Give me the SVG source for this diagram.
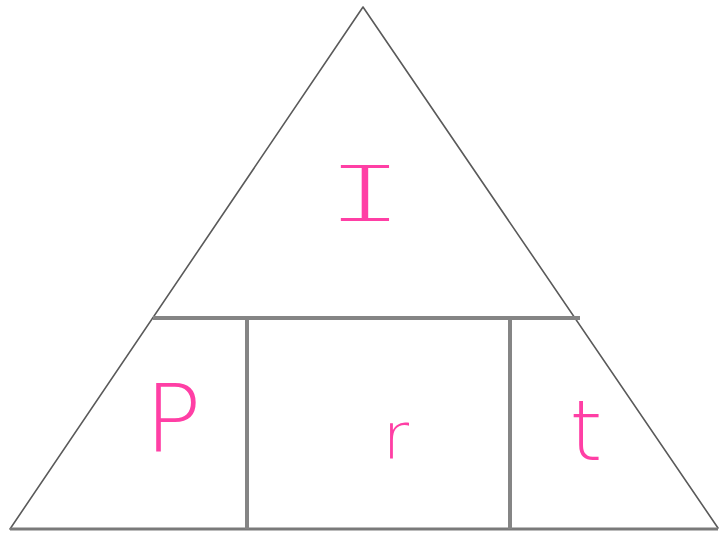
<svg xmlns="http://www.w3.org/2000/svg" width="720" height="533" viewBox="0 0 720 533">
<style>
.edge{fill:none;stroke:#5a5a5a;stroke-width:1.6;stroke-linecap:round;stroke-linejoin:round}
.div{fill:none;stroke:#858585;stroke-width:4;stroke-linecap:butt}
.base{fill:none;stroke:#7a7a7a;stroke-width:3}
.lbl{fill:#ff3fa5;font-family:"DejaVu Sans","Liberation Sans",sans-serif;font-weight:200;text-anchor:middle}
.lblI{fill:#ff3fa5;stroke:#ffffff;stroke-width:4;font-family:"Liberation Mono","DejaVu Sans Mono",monospace;text-anchor:middle}
</style>
<rect width="720" height="533" fill="#ffffff"/>
<g id="triangle">
<path class="edge" d="M10,529 L363,7 L718,528"/>
<path class="base" d="M10,529 L718,529"/>
</g>
<g id="dividers">
<path class="div" d="M153,318 L580,318"/>
<path class="div" d="M247,318 L247,529"/>
<path class="div" d="M510,318 L510,529"/>
</g>
<g id="node-I"><text class="lblI" x="0" y="223" font-size="90" transform="translate(365,0) scale(1.5,1)">I</text></g>
<g id="node-P"><text class="lbl" x="173" y="452" font-size="94">P</text></g>
<g id="node-r"><text class="lbl" x="396" y="458" font-size="64">r</text></g>
<g id="node-t"><text class="lbl" x="586" y="460" font-size="84">t</text></g>
</svg>
